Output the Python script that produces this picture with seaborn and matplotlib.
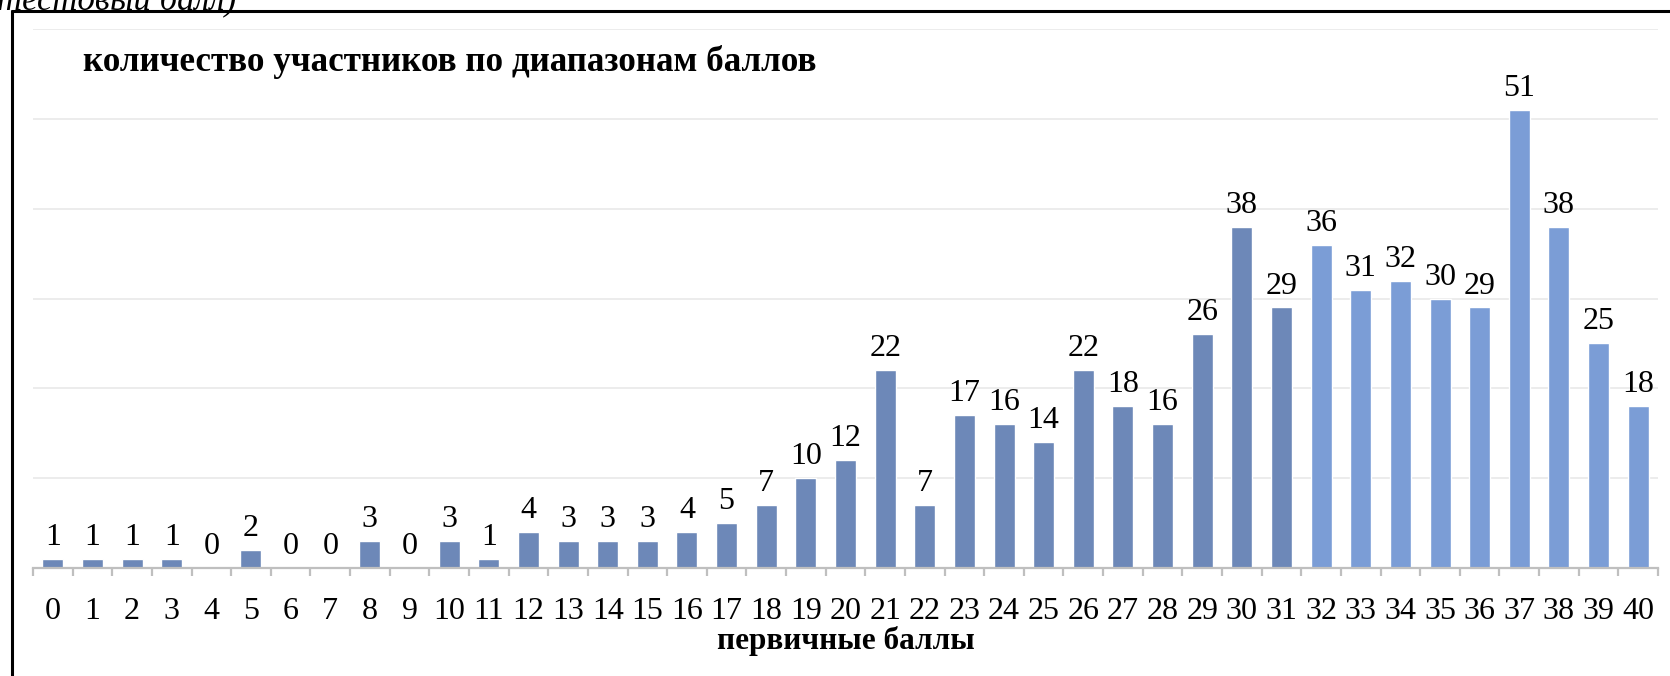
import matplotlib
matplotlib.use("Agg")
import matplotlib.pyplot as plt
import seaborn as sns
import pandas as pd
from matplotlib.lines import Line2D

# ---- data ----
scores = [str(i) for i in range(41)]
counts = [1, 1, 1, 1, 0, 2, 0, 0, 3, 0, 3, 1, 4, 3, 3, 3, 4, 5, 7, 10,
          12, 22, 7, 17, 16, 14, 22, 18, 16, 26, 38, 29, 36, 31, 32, 30, 29, 51, 38, 25, 18]
groups = ["a"] * 32 + ["b"] * 9
title = "количество участников по диапазонам баллов"
xlabel = "первичные баллы"
top_text = "тестовый балл)"

sns.set_theme(style="white")
plt.rcParams["font.family"] = ["Liberation Serif", "DejaVu Serif"]
plt.rcParams["text.color"] = "black"
plt.rcParams["axes.labelcolor"] = "black"

df = pd.DataFrame({"score": scores, "count": counts, "grp": groups})

fig = plt.figure(figsize=(16.7, 6.76), dpi=100)
ax = fig.add_axes([33 / 1670, 1 - 568 / 676, (1658 - 33) / 1670, (568 - 29) / 676])

sns.barplot(data=df, x="score", y="count", hue="grp", order=scores,
            palette={"a": "#6D88B8", "b": "#7B9DD6"}, dodge=False,
            width=0.53, legend=False, ax=ax, saturation=1)

for c in ax.containers:
    ax.bar_label(c, labels=[f"{v:g}" for v in c.datavalues],
                 padding=5, fontsize=23, color="black")

ax.set_ylim(0, 60)
ax.set_xlim(-0.5, 40.5)
ax.set_yticks([10, 20, 30, 40, 50, 60])
ax.yaxis.grid(True, color="#EBEBEB", linewidth=1.3)
ax.set_axisbelow(True)
ax.tick_params(axis="y", left=False, labelleft=False)
ax.set_ylabel("")
for s in ["top", "right", "left"]:
    ax.spines[s].set_visible(False)
ax.spines["bottom"].set_color("#BFBFBF")
ax.spines["bottom"].set_linewidth(1.6)

ax.set_xticks(range(41))
ax.set_xticklabels(scores, fontsize=23)
ax.set_xticks([i - 0.5 for i in range(42)], minor=True)
ax.tick_params(axis="x", which="major", length=0, pad=21, labelsize=23, labelcolor="black")
ax.tick_params(axis="x", which="minor", length=6, width=1.6, color="#BFBFBF", bottom=True)
ax.set_xlabel(xlabel, fontsize=22.5, fontweight="bold", labelpad=0, color="black")

fig.text(83 / 1670, 1 - 62 / 676, title, fontsize=25.3, fontweight="bold", va="center", ha="left")
fig.text(-0.002, 1 - 10 / 676, top_text, fontsize=25, style="italic", va="baseline", ha="left")

# frame (left and top lines)
fig.add_artist(Line2D([12 / 1670, 12 / 1670], [0, 1 - 11 / 676], transform=fig.transFigure,
                      color="black", linewidth=2.2))
fig.add_artist(Line2D([12 / 1670, 1], [1 - 11 / 676, 1 - 11 / 676], transform=fig.transFigure,
                      color="black", linewidth=2.2))

fig.savefig("out.png", dpi=100)
